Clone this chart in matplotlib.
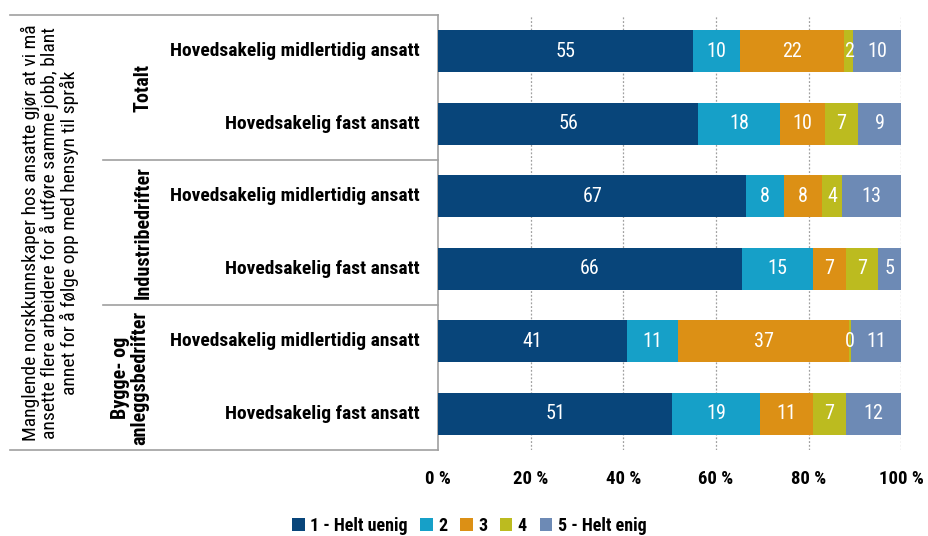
import numpy as np
import matplotlib.pyplot as plt
from matplotlib.patches import Patch

plt.rcParams['font.family'] = ['Roboto Condensed', 'DejaVu Sans']

# data (share in %)
rows = ["Hovedsakelig midlertidig ansatt", "Hovedsakelig fast ansatt",
        "Hovedsakelig midlertidig ansatt", "Hovedsakelig fast ansatt",
        "Hovedsakelig midlertidig ansatt", "Hovedsakelig fast ansatt"]
groups = ["Totalt", "Industribedrifter", "Bygge- og\nanleggsbedrifter"]
series = ["1 - Helt uenig", "2", "3", "4", "5 - Helt enig"]
helt_uenig = [55.1, 56.2, 66.6, 65.6, 40.8, 50.6]
s2 = [10.1, 17.7, 8.1, 15.4, 11.0, 19.0]
s3 = [22.4, 9.7, 8.3, 7.1, 37.0, 11.4]
s4 = [2.1, 7.1, 4.2, 6.9, 0.3, 7.0]
helt_enig = [10.3, 9.3, 12.8, 5.0, 10.9, 12.0]
ticks = [0, 20, 40, 60, 80, 100]
title = ("Manglende norskkunnskaper hos ansatte gjør at vi må\n"
         "ansette flere arbeidere for å utføre samme jobb, blant\n"
         "annet for å følge opp med hensyn til språk")

colors = ["#08457a", "#16a0c8", "#dc9015", "#bcbb1f", "#6d8ab5"]

fig = plt.figure(figsize=(9.29, 5.36), dpi=100)
ax = fig.add_axes([0.4715, 0.160, 0.4985, 0.812])

y = np.arange(len(rows))
left = np.zeros(len(rows))
for vals, c, name in zip([helt_uenig, s2, s3, s4, helt_enig], colors, series):
    vals = np.array(vals)
    ax.barh(y, vals, left=left, height=0.58, color=c, label=name, zorder=3)
    for yi, l, v in zip(y, left, vals):
        ax.text(l + v / 2, yi, f"{v:.0f}", ha="center", va="center",
                color="white", fontsize=14.5, zorder=4)
    left += vals

ax.set_xlim(0, 100)
ax.set_ylim(5.5, -0.5)
ax.set_xticks(ticks)
ax.set_xticklabels([f"{t} %" for t in ticks], fontsize=13.5, fontweight="bold")
ax.tick_params(axis="x", length=0, pad=14)
ax.set_yticks([])
for t in ticks[1:]:
    ax.axvline(t, color="#a0a0a0", lw=0.9, ls=(0, (1.5, 1.5)), zorder=1)
for s in ["top", "right", "bottom"]:
    ax.spines[s].set_visible(False)
ax.spines["left"].set_color("#a0a0a0")
ax.spines["left"].set_linewidth(1.2)

# table-like labels on the left
tr = ax.get_yaxis_transform()
for yi, r in zip(y, rows):
    ax.text(-0.04, yi, r, transform=tr, ha="right", va="center",
            fontsize=14, fontweight="bold")
for i, g in enumerate(groups):
    gx = -0.665 if "\n" in g else -0.637
    ax.text(gx, 2 * i + 0.5, g, transform=tr, ha="center", va="center",
            rotation=90, fontsize=14.5, fontweight="bold", linespacing=1.0)
ax.text(-0.838, 2.5, title, transform=tr, ha="center", va="center",
        rotation=90, fontsize=14, linespacing=1.0)

for yy, x0 in [(-0.5, -0.925), (5.5, -0.925), (1.5, -0.7235), (3.5, -0.7235)]:
    ax.plot([x0, 0], [yy, yy], transform=tr, color="#a0a0a0", lw=1.2,
            clip_on=False)

handles = [Patch(facecolor=c, label=n) for c, n in zip(colors, series)]
fig.legend(handles=handles, loc="lower center", bbox_to_anchor=(0.505, -0.028),
           ncol=5, frameon=False, handlelength=0.7,
           handleheight=0.7, handletextpad=0.3, columnspacing=0.7,
           prop={"family": ["Roboto Condensed", "DejaVu Sans"],
                 "weight": "bold", "size": 13})

fig.savefig("out.png", dpi=100)
